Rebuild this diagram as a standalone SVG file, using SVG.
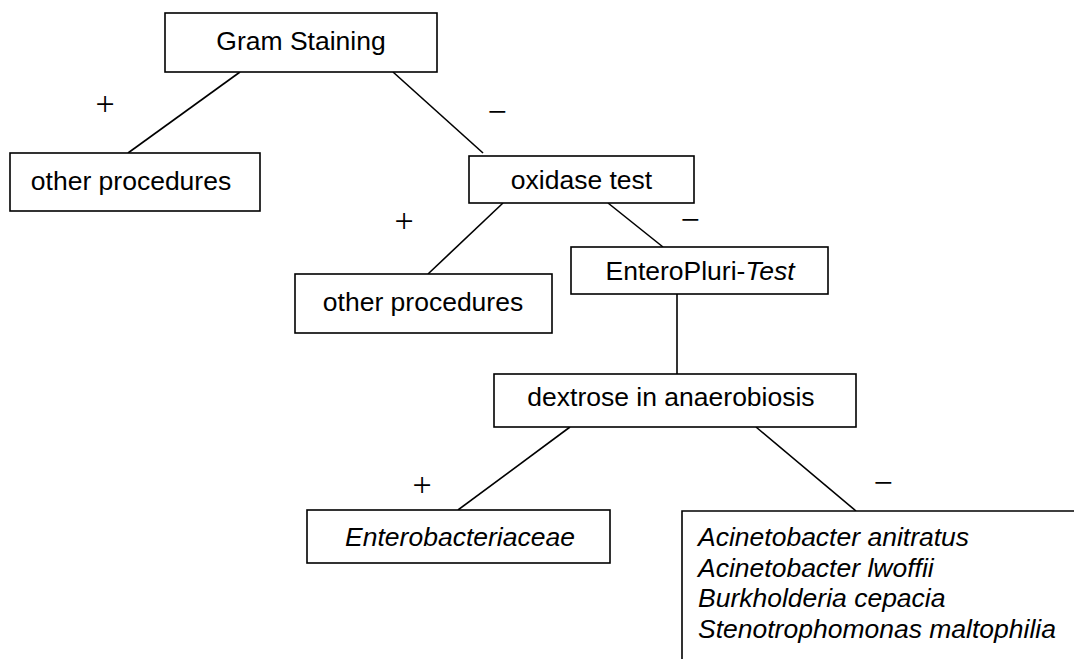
<svg xmlns="http://www.w3.org/2000/svg" width="1074" height="659" viewBox="0 0 1074 659">
  <style>
    .box { fill: #ffffff; stroke: #000000; stroke-width: 1.6; }
    .lbl { font-family: "Liberation Sans", Arial, sans-serif; font-size: 26.5px; fill: #000000; text-anchor: middle; }
    .it { font-style: italic; }
    .sign { font-family: "Liberation Serif", "Times New Roman", serif; font-size: 34px; fill: #000000; text-anchor: middle; }
    .conn { stroke: #000000; stroke-width: 1.6; fill: none; }
  </style>
  <rect x="0" y="0" width="1074" height="659" fill="#ffffff"/>

  <g id="connectors">
    <line class="conn" x1="240" y1="72" x2="128" y2="153"/>
    <line class="conn" x1="393" y1="72" x2="483" y2="153"/>
    <line class="conn" x1="503" y1="203" x2="428" y2="274"/>
    <line class="conn" x1="608" y1="203" x2="663" y2="247"/>
    <line class="conn" x1="677" y1="294" x2="677" y2="374" stroke-width="2.6"/>
    <line class="conn" x1="570" y1="427" x2="458" y2="510"/>
    <line class="conn" x1="756" y1="427" x2="856" y2="511"/>
    <text class="sign" x="105" y="115">+</text>
    <text class="sign" x="497" y="123">−</text>
    <text class="sign" x="404" y="232">+</text>
    <text class="sign" x="690" y="231">−</text>
    <text class="sign" x="422" y="496">+</text>
    <text class="sign" x="883" y="494">−</text>
  </g>

  <g id="gram-staining">
    <rect class="box" x="165" y="13" width="272" height="59"/>
    <text class="lbl" x="301" y="50">Gram Staining</text>
  </g>

  <g id="other-procedures-1">
    <rect class="box" x="10" y="153" width="250" height="58"/>
    <text class="lbl" x="131" y="190">other procedures</text>
  </g>

  <g id="oxidase-test">
    <rect class="box" x="469" y="156" width="225" height="47"/>
    <text class="lbl" x="581.5" y="189">oxidase test</text>
  </g>

  <g id="other-procedures-2">
    <rect class="box" x="295" y="274" width="257" height="59"/>
    <text class="lbl" x="423" y="311">other procedures</text>
  </g>

  <g id="enteropluri-test">
    <rect class="box" x="571" y="247" width="257" height="47"/>
    <text class="lbl" x="700" y="280">EnteroPluri-<tspan class="it">Test</tspan></text>
  </g>

  <g id="dextrose">
    <rect class="box" x="494" y="374" width="362" height="53"/>
    <text class="lbl" x="671" y="406">dextrose in anaerobiosis</text>
  </g>

  <g id="enterobacteriaceae">
    <rect class="box" x="307" y="510" width="303" height="53"/>
    <text class="lbl it" x="460" y="546">Enterobacteriaceae</text>
  </g>

  <g id="non-fermenters">
    <path class="box" d="M682 662 V511 H1080" fill="none"/>
    <text class="lbl it" style="text-anchor:start" x="698" y="546">
      <tspan x="698" y="546">Acinetobacter anitratus</tspan>
      <tspan x="698" y="576.5">Acinetobacter lwoffii</tspan>
      <tspan x="698" y="607">Burkholderia cepacia</tspan>
      <tspan x="698" y="637.5">Stenotrophomonas maltophilia</tspan>
    </text>
  </g>
</svg>
